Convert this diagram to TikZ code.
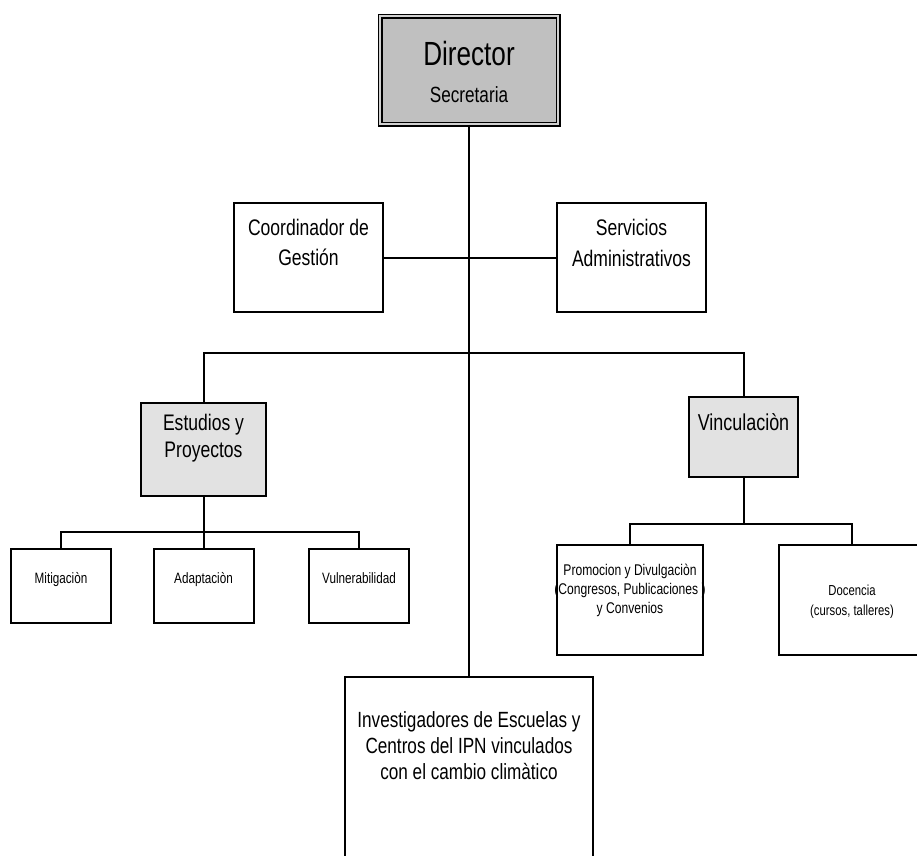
\documentclass[tikz,border=0pt]{standalone}
\usepackage{fontspec}
\setmainfont{Liberation Sans}[FakeStretch=0.78]
\definecolor{headgray}{HTML}{C0C0C0}
\definecolor{unitgray}{HTML}{E2E2E2}
\tikzset{
  box/.style={draw, line width=2pt, inner sep=0pt},
  unit/.style={box, fill=unitgray},
  head/.style={draw, fill=headgray, line width=1.6pt, double=white!82!black, double distance=1.8pt, inner sep=0pt},
  lbl/.style={align=center, inner sep=0pt, anchor=base},
  big/.style={lbl, font=\fontsize{22.5}{27}\selectfont},
  small/.style={lbl, font=\fontsize{15}{19}\selectfont},
  link/.style={line width=2pt}
}
\begin{document}
\begin{tikzpicture}[x=1pt,y=-1pt]
\useasboundingbox (0,0) rectangle (917,855);
\clip (0,0) rectangle (917,855);
\node[head, minimum width=178pt, minimum height=108pt] (dir) at (469,70) {};
\node[lbl, font=\fontsize{33.5}{36}\selectfont] (dir-t) at (469,65) {Director};
\node[lbl, font=\fontsize{22}{26}\selectfont] (dir-s) at (469,102) {Secretaria};

\node[box, minimum width=149pt, minimum height=109pt] (coord) at (308.5,257.5) {};
\node[big] (coord-t) at (308.5,265) {Coordinador de\\[3pt]Gestión};
\node[box, minimum width=149pt, minimum height=109pt] (serv) at (631.5,257.5) {};
\node[big] (serv-t) at (631.5,266) {Servicios\\[4pt]Administrativos};

\node[unit, minimum width=125pt, minimum height=93pt] (estud) at (203.5,449.5) {};
\node[big] (estud-t) at (203.5,457) {Estudios y\\Proyectos};
\node[unit, minimum width=109pt, minimum height=80pt] (vinc) at (743.5,437) {};
\node[lbl, font=\fontsize{23}{27}\selectfont] (vinc-t) at (743.5,430) {Vinculaciòn};

\node[box, minimum width=100pt, minimum height=74pt] (mitig) at (61,586) {};
\node[small] (mitig-t) at (61,583) {Mitigaciòn};
\node[box, minimum width=100pt, minimum height=74pt] (adapt) at (203.5,586) {};
\node[small] (adapt-t) at (203.5,583) {Adaptaciòn};
\node[box, minimum width=100pt, minimum height=74pt] (vuln) at (359,586) {};
\node[small] (vuln-t) at (359,583) {Vulnerabilidad};

\node[box, minimum width=146pt, minimum height=110pt] (promo) at (630,600) {};
\node[lbl, font=\fontsize{15.5}{19}\selectfont] (promo-t) at (630,613.5)
   {Promocion y Divulgaciòn\\(Congresos, Publicaciones )\\y Convenios};
\node[box, minimum width=146pt, minimum height=110pt] (doc) at (852,600) {};
\node[lbl, font=\fontsize{14.5}{20}\selectfont] (doc-t) at (852,615)
   {Docencia\\(cursos, talleres)};

\node[box, minimum width=248pt, minimum height=223pt] (inv) at (469,788.5) {};
\node[lbl, font=\fontsize{22}{26}\selectfont] (inv-t) at (469,779)
   {Investigadores de Escuelas y\\Centros del IPN vinculados\\con el cambio climàtico};

\coordinate (bus) at (469,353);
\coordinate (ebus) at (203.5,532);
\coordinate (vbus) at (743.5,524);
\draw[link] (dir) -- (inv);
\draw[link] (coord) -- (serv);
\draw[link] (estud) |- (bus) -| (vinc);
\draw[link] (mitig) |- (ebus) -| (vuln);
\draw[link] (estud) -- (adapt);
\draw[link] (promo) |- (vbus) -| (doc);
\draw[link] (vinc) -- (vbus);
\end{tikzpicture}
\end{document}
